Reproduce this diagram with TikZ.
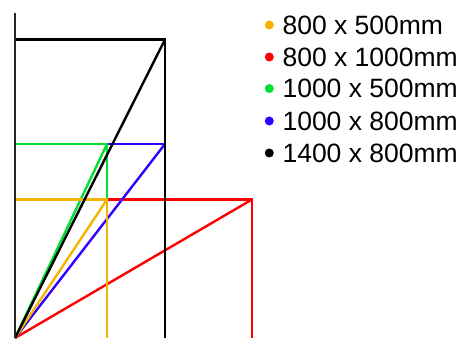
\documentclass[tikz,border=0pt]{standalone}
\usepackage{fontspec}
\setmainfont{Liberation Sans}
\usetikzlibrary{positioning}
\definecolor{boxyellow}{RGB}{245,180,0}
\definecolor{boxred}{RGB}{255,0,0}
\definecolor{boxgreen}{RGB}{0,225,50}
\definecolor{boxblue}{RGB}{50,0,255}
\begin{document}
\begin{tikzpicture}[x=1pt,y=1pt,every node/.style={font=\fontsize{26.5}{30}\selectfont}]
\tikzstyle{edge}=[line width=2.4pt]
\tikzstyle{dot}=[circle,inner sep=0pt,minimum size=9pt]
\useasboundingbox (0,0) rectangle (463,338);
% origin and axis
\coordinate (org) at (15,0);
\coordinate (axtop) at (15,325);
% top-right corners of the boxes
\coordinate (yel) at (107,138.5);
\coordinate (red) at (252,138.5);
\coordinate (grn) at (107,194);
\coordinate (blu) at (165,194);
\coordinate (blk) at (165,298.5);
% boxes: top edge, right edge, diagonal
\foreach \c/\col in {red/boxred,blu/boxblue,grn/boxgreen,yel/boxyellow,blk/black}{
  \draw[edge,\col] (org |- \c) -- (\c) -- (\c |- org);
  \draw[edge,\col] (org) -- (\c);
}
\draw[edge,black!85] (org) -- (axtop);
% legend
\node[anchor=west] (l1) at (279,313) {800 x 500mm};
\node[anchor=west] (l2) at (279,281) {800 x 1000mm};
\node[anchor=west] (l3) at (279,249.5) {1000 x 500mm};
\node[anchor=west] (l4) at (279,217) {1000 x 800mm};
\node[anchor=west] (l5) at (279,185) {1400 x 800mm};
\node[dot,fill=boxyellow,left=5pt of l1] (d1) {};
\node[dot,fill=boxred,left=5pt of l2] (d2) {};
\node[dot,fill=boxgreen,left=5pt of l3] (d3) {};
\node[dot,fill=boxblue,left=5pt of l4] (d4) {};
\node[dot,fill=black,left=5pt of l5] (d5) {};
\end{tikzpicture}
\end{document}
